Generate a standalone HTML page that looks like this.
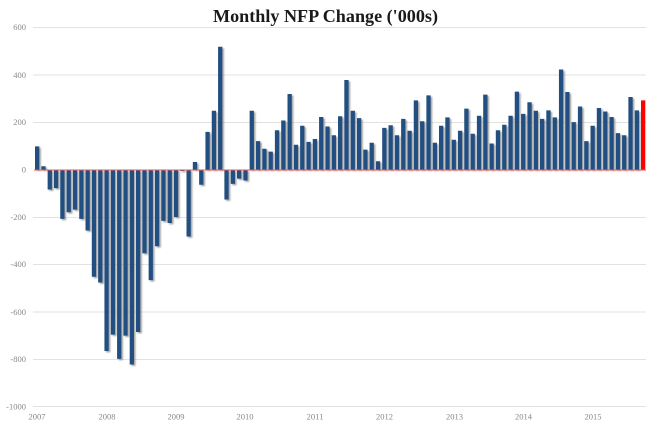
<!DOCTYPE html>
<html>
<head>
<meta charset="utf-8">
<style>
html,body{margin:0;padding:0;background:#fff;}
svg{display:block;}
</style>
</head>
<body>
<svg width="650" height="423" viewBox="0 0 650 423" xmlns="http://www.w3.org/2000/svg">
<defs>
<filter id="sh" x="-5%" y="-10%" width="110%" height="130%">
<feDropShadow dx="1.6" dy="1.4" stdDeviation="0.7" flood-color="#777" flood-opacity="0.65"/>
</filter>
</defs>
<rect width="650" height="423" fill="#fff"/>
<text x="213" y="22" font-family="Liberation Serif, serif" font-weight="bold" font-size="17.5" fill="#1a1a1a" textLength="225" lengthAdjust="spacingAndGlyphs">Monthly NFP Change ('000s)</text>
<path stroke="#e2e2e2" stroke-width="1" fill="none" d="M33 27.5H646M33 75H646M33 122.5H646M33 217.5H646M33 264.5H646M33 312H646M33 359.5H646M33 406.5H646"/>
<g font-family="Liberation Serif, serif" font-size="8.5" fill="#888" text-anchor="end">
<text x="26" y="30">600</text>
<text x="26" y="78">400</text>
<text x="26" y="125">200</text>
<text x="26" y="172.5">0</text>
<text x="26" y="220">-200</text>
<text x="26" y="267">-400</text>
<text x="26" y="315">-600</text>
<text x="26" y="362">-800</text>
<text x="26" y="409.5">-1000</text>
</g>
<g font-family="Liberation Serif, serif" font-size="8.5" fill="#888" text-anchor="middle">
<text x="37" y="419.5">2007</text>
<text x="107" y="419.5">2008</text>
<text x="176" y="419.5">2009</text>
<text x="245" y="419.5">2010</text>
<text x="315" y="419.5">2011</text>
<text x="384.5" y="419.5">2012</text>
<text x="454.5" y="419.5">2013</text>
<text x="523.5" y="419.5">2014</text>
<text x="593" y="419.5">2015</text>
</g>
<path fill="#215082" filter="url(#sh)" d="
M35 169.6V146.36h4.3V169.6z M41.31 169.6V166.28h4.3V169.6z M47.63 169.6V189.52h4.3V169.6z M53.94 169.6V188.1h4.3V169.6z
M60.25 169.6V218.92h4.3V169.6z M66.56 169.6V212.28h4.3V169.6z M72.88 169.6V209.67h4.3V169.6z M79.19 169.6V218.92h4.3V169.6z
M85.5 169.6V230.54h4.3V169.6z M91.81 169.6V276.78h4.3V169.6z M98.13 169.6V282.47h4.3V169.6z M104.44 169.6V351h4.3V169.6z
M110.75 169.6V334.64h4.3V169.6z M117.06 169.6V358.83h4.3V169.6z M123.38 169.6V335.59h4.3V169.6z M129.69 169.6V364.52h4.3V169.6z
M136 169.6V332.03h4.3V169.6z M142.31 169.6V253.31h4.3V169.6z M148.63 169.6V280.1h4.3V169.6z M154.94 169.6V246.19h4.3V169.6z
M161.25 169.6V220.82h4.3V169.6z M167.56 169.6V222.95h4.3V169.6z M173.88 169.6V217.03h4.3V169.6z M180.19 169.6V171.02h4.3V169.6z
M186.5 169.6V236.47h4.3V169.6z M192.81 169.6V162.01h4.3V169.6z M199.13 169.6V184.78h4.3V169.6z M205.44 169.6V131.9h4.3V169.6z
M211.75 169.6V110.79h4.3V169.6z M218.06 169.6V46.77h4.3V169.6z M224.38 169.6V199.48h4.3V169.6z M230.69 169.6V183.83h4.3V169.6z
M237 169.6V178.61h4.3V169.6z M243.31 169.6V180.51h4.3V169.6z M249.63 169.6V110.79h4.3V169.6z M255.94 169.6V141.14h4.3V169.6z
M262.25 169.6V148.73h4.3V169.6z M268.56 169.6V151.58h4.3V169.6z M274.88 169.6V130.24h4.3V169.6z M281.19 169.6V120.51h4.3V169.6z
M287.5 169.6V93.96h4.3V169.6z M293.81 169.6V144.7h4.3V169.6z M300.13 169.6V125.73h4.3V169.6z M306.44 169.6V141.86h4.3V169.6z
M312.75 169.6V139.01h4.3V169.6z M319.06 169.6V116.96h4.3V169.6z M325.38 169.6V126.44h4.3V169.6z M331.69 169.6V135.22h4.3V169.6z
M338 169.6V116.25h4.3V169.6z M344.31 169.6V79.96h4.3V169.6z M350.63 169.6V110.79h4.3V169.6z M356.94 169.6V118.14h4.3V169.6z
M363.25 169.6V149.68h4.3V169.6z M369.56 169.6V142.8h4.3V169.6z M375.88 169.6V161.3h4.3V169.6z M382.19 169.6V127.87h4.3V169.6z
M388.5 169.6V125.26h4.3V169.6z M394.81 169.6V135.22h4.3V169.6z M401.13 169.6V118.85h4.3V169.6z M407.44 169.6V130.71h4.3V169.6z
M413.75 169.6V100.36h4.3V169.6z M420.06 169.6V121.23h4.3V169.6z M426.38 169.6V95.38h4.3V169.6z M432.69 169.6V142.8h4.3V169.6z
M439 169.6V125.73h4.3V169.6z M445.31 169.6V117.43h4.3V169.6z M451.63 169.6V139.72h4.3V169.6z M457.94 169.6V130.71h4.3V169.6z
M464.25 169.6V108.66h4.3V169.6z M470.56 169.6V133.79h4.3V169.6z M476.88 169.6V115.77h4.3V169.6z M483.19 169.6V94.67h4.3V169.6z
M489.5 169.6V143.52h4.3V169.6z M495.81 169.6V130.24h4.3V169.6z M502.13 169.6V124.78h4.3V169.6z M508.44 169.6V115.77h4.3V169.6z
M514.75 169.6V91.58h4.3V169.6z M521.06 169.6V113.87h4.3V169.6z M527.38 169.6V102.26h4.3V169.6z M533.69 169.6V110.79h4.3V169.6z
M540 169.6V118.85h4.3V169.6z M546.31 169.6V110.32h4.3V169.6z M552.63 169.6V117.43h4.3V169.6z M558.94 169.6V69.53h4.3V169.6z
M565.25 169.6V92.06h4.3V169.6z M571.56 169.6V122.17h4.3V169.6z M577.88 169.6V106.52h4.3V169.6z M584.19 169.6V141.14h4.3V169.6z
M590.5 169.6V125.73h4.3V169.6z M596.81 169.6V107.95h4.3V169.6z M603.13 169.6V111.5h4.3V169.6z M609.44 169.6V116.96h4.3V169.6z
M615.75 169.6V133.08h4.3V169.6z M622.06 169.6V135.22h4.3V169.6z M628.38 169.6V97.04h4.3V169.6z M634.69 169.6V110.32h4.3V169.6z"/>
<rect x="641" y="100.36" width="4.3" height="69.24" fill="#ff0000"/>
<line x1="34" y1="170" x2="646" y2="170" stroke="#f05a5a" stroke-width="1"/>
</svg>
</body>
</html>
